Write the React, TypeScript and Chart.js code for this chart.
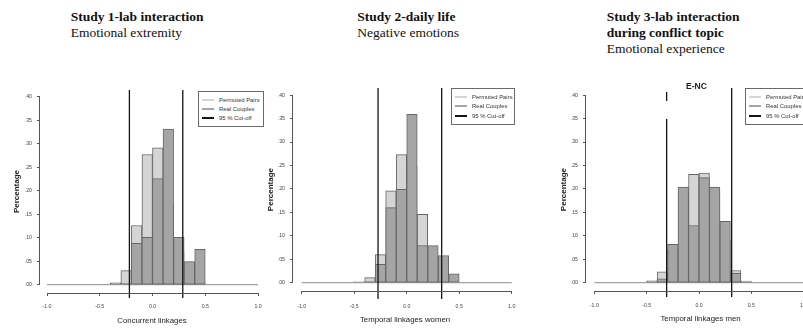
import React, { useEffect, useRef } from 'react';
import { Chart, registerables } from 'chart.js';

Chart.register(...registerables);

// ---------------- DATA ----------------
const BIN_CENTERS = [-0.45, -0.35, -0.25, -0.15, -0.05, 0.05, 0.15, 0.25, 0.35, 0.45];
const X_TICKS = [-1.0, -0.5, 0.0, 0.5, 1.0];
const X_TICK_LABELS = ['-1.0', '-0.5', '0.0', '0.5', '1.0'];
const Y_TICKS = [0, 0.05, 0.1, 0.15, 0.2, 0.25, 0.3, 0.35, 0.4];
const Y_TICK_LABELS = ['.00', '.05', '.10', '.15', '.20', '.25', '.30', '.35', '.40'];
const SERIES_NAMES = ['Permuted Pairs', 'Real Couples', '95 % Cut-off'];
const Y_TITLE = 'Percentage';
const X_TITLES = ['Concurrent linkages', 'Temporal linkages women', 'Temporal linkages men'];
const STUDY_TITLES = [
  ['Study 1-lab interaction'],
  ['Study 2-daily life'],
  ['Study 3-lab interaction', 'during conflict topic'],
];
const STUDY_SUBTITLES = ['Emotional extremity', 'Negative emotions', 'Emotional experience'];
const PANEL3_MAIN = 'E-NC';

// Study 1
const S1_PERMUTED = [null, null, 0.030, 0.126, 0.277, 0.291, 0.170, 0.070, 0.020, 0.005];
const S1_REAL = [null, 0.004, null, 0.088, 0.101, 0.226, 0.331, 0.101, 0.049, 0.075];
const S1_CUTOFFS = [-0.219, 0.287];
// Study 2
const S2_PERMUTED = [null, 0.011, 0.060, 0.196, 0.273, 0.250, 0.146, 0.040, 0.010, null];
const S2_REAL = [0.002, null, 0.039, 0.160, 0.199, 0.359, 0.079, 0.079, 0.058, 0.019];
const S2_CUTOFFS = [-0.273, 0.333];
// Study 3
const S3_PERMUTED = [null, 0.023, 0.070, 0.190, 0.231, 0.234, 0.190, 0.090, 0.026, null];
const S3_REAL = [0.004, 0.0085, 0.082, 0.204, 0.122, 0.224, 0.204, 0.131, 0.020, 0.0035];
const S3_CUTOFFS = [-0.309, 0.312];

// ---------------- STYLE / LAYOUT ----------------
const SANS = "'Liberation Sans', Arial, Helvetica, sans-serif";
const SERIF = "'Liberation Serif', 'Times New Roman', serif";
const LIGHT = '#d5d5d5';
const DARK = '#a5a5a5';
const EDGE = '#666666';
const CUT = '#151515';

Chart.defaults.font.family = SANS;

type Spec = {
  L: number; T: number; R: number; B: number;
  caL: number; caT: number; caR: number; caB: number;
  xN: number; xP: number; y0: number; y40: number;
  yTitleX: number; xTitleY: number; xTickY: number;
  xTitle: string;
  permuted: (number | null)[]; real: (number | null)[]; cutoffs: number[];
  cutTops: number[]; cutBottom: number; gap: null | { index: number; from: number; to: number };
  legend: { left: number; top: number; width: number; height: number };
};

const PANELS: Spec[] = [
  {
    L: 0, T: 80, R: 275, B: 331, caL: 40, caT: 90, caR: 264, caB: 293,
    xN: 47, xP: 258, y0: 284.7, y40: 96.7, yTitleX: 17, xTitleY: 321, xTickY: 307,
    xTitle: X_TITLES[0], permuted: S1_PERMUTED, real: S1_REAL, cutoffs: S1_CUTOFFS,
    cutTops: [90, 90], cutBottom: 298, gap: null,
    legend: { left: 198, top: 90.5, width: 66, height: 36.5 },
  },
  {
    L: 262, T: 80, R: 530, B: 331, caL: 293, caT: 88, caR: 517, caB: 291,
    xN: 301.7, xP: 511.7, y0: 282.7, y40: 95, yTitleX: 271, xTitleY: 319.5, xTickY: 306.5,
    xTitle: X_TITLES[1], permuted: S2_PERMUTED, real: S2_REAL, cutoffs: S2_CUTOFFS,
    cutTops: [88, 88], cutBottom: 299, gap: null,
    legend: { left: 451, top: 88, width: 64, height: 36.5 },
  },
  {
    L: 540, T: 80, R: 830, B: 331, caL: 586, caT: 88, caR: 815, caB: 291,
    xN: 594.3, xP: 803.7, y0: 282.7, y40: 95, yTitleX: 563.3, xTitleY: 319, xTickY: 305.5,
    xTitle: X_TITLES[2], permuted: S3_PERMUTED, real: S3_REAL, cutoffs: S3_CUTOFFS,
    cutTops: [92, 88], cutBottom: 297, gap: { index: 0, from: 101, to: 119 },
    legend: { left: 745, top: 88, width: 70, height: 36.5 },
  },
];

const rAxesPlugin = {
  id: 'rAxes',
  afterDraw(chart: any) {
    const { ctx, chartArea, scales } = chart;
    const x = scales.x;
    const y = scales.y;
    ctx.save();
    ctx.strokeStyle = '#555';
    ctx.lineWidth = 1;
    ctx.beginPath();
    const yb = Math.round(chartArea.bottom) + 0.5;
    ctx.moveTo(x.getPixelForValue(X_TICKS[0]), yb);
    ctx.lineTo(x.getPixelForValue(X_TICKS[X_TICKS.length - 1]), yb);
    const xl = Math.round(chartArea.left) - 0.5;
    ctx.moveTo(xl, y.getPixelForValue(Y_TICKS[0]));
    ctx.lineTo(xl, y.getPixelForValue(Y_TICKS[Y_TICKS.length - 1]));
    ctx.stroke();
    ctx.restore();
  },
};

function Panel({ spec }: { spec: Spec }) {
  const ref = useRef<HTMLCanvasElement>(null);
  useEffect(() => {
    const s = spec;
    const xppu = (s.xP - s.xN) / 2;
    const yppu = (s.y0 - s.y40) / 0.4;
    const xVal = (px: number) => -1 + (px - s.xN) / xppu;
    const yVal = (py: number) => (s.y0 - py) / yppu;
    const tickLen = 3;
    const tickFont = 5.2;
    const yTitleFont = 8;
    const xTitleFont = 7.8;

    const cutData = (i: number) => {
      const c = s.cutoffs[i];
      if (s.gap && s.gap.index === i) {
        return [
          { x: c, y: yVal(s.cutTops[i]) },
          { x: c, y: yVal(s.gap.from) },
          { x: c, y: null },
          { x: c, y: yVal(s.gap.to) },
          { x: c, y: yVal(s.cutBottom) },
        ];
      }
      return [
        { x: c, y: yVal(s.cutTops[i]) },
        { x: c, y: yVal(s.cutBottom) },
      ];
    };

    const barCommon = {
      type: 'bar',
      borderColor: EDGE,
      borderWidth: 1,
      borderSkipped: false,
      grouped: false,
      barPercentage: 1,
      categoryPercentage: 1,
    };

    const chart = new Chart(ref.current as HTMLCanvasElement, {
      type: 'bar',
      data: {
        datasets: [
          {
            type: 'line',
            label: 'zero',
            data: [{ x: X_TICKS[0], y: 0 }, { x: X_TICKS[X_TICKS.length - 1], y: 0 }],
            borderColor: '#8c8c8c',
            borderWidth: 1,
            pointRadius: 0,
            order: 3,
          },
          {
            ...barCommon,
            label: SERIES_NAMES[0],
            data: BIN_CENTERS.map((x, i) => ({ x, y: s.permuted[i] })),
            backgroundColor: LIGHT,
            order: 2,
          },
          {
            ...barCommon,
            label: SERIES_NAMES[1],
            data: BIN_CENTERS.map((x, i) => ({ x, y: s.real[i] })),
            backgroundColor: DARK,
            order: 1,
          },
          ...s.cutoffs.map((_, i) => ({
            type: 'line',
            label: SERIES_NAMES[2],
            data: cutData(i),
            borderColor: CUT,
            borderWidth: 1.3,
            pointRadius: 0,
            spanGaps: false,
            clip: false,
            order: 0,
          })),
        ] as any,
      },
      options: {
        animation: false,
        responsive: false,
        events: [],
        layout: { padding: { left: 0, top: s.caT - s.T, right: s.R - s.caR, bottom: 0 } },
        plugins: { legend: { display: false }, tooltip: { enabled: false } },
        scales: {
          x: {
            type: 'linear',
            offset: false,
            bounds: 'data',
            min: xVal(s.caL),
            max: xVal(s.caR),
            afterBuildTicks: (sc: any) => { sc.ticks = X_TICKS.map((v) => ({ value: v })); },
            afterFit: (sc: any) => { sc.height = s.B - s.caB; },
            ticks: {
              autoSkip: false,
              maxRotation: 0,
              font: { size: tickFont },
              color: '#444',
              padding: s.xTickY - s.caB - tickLen - (tickFont * 1.2) / 2,
              callback: (_v: any, i: number) => X_TICK_LABELS[i],
            },
            grid: { offset: false, drawOnChartArea: false, drawTicks: true, tickLength: tickLen, color: '#555' },
            border: { display: false },
            title: {
              display: true,
              text: s.xTitle,
              color: '#222',
              font: { size: xTitleFont },
              padding: { top: 0, bottom: s.B - s.xTitleY - (xTitleFont * 1.2) / 2 },
            },
          },
          y: {
            type: 'linear',
            bounds: 'data',
            min: yVal(s.caB),
            max: yVal(s.caT),
            afterBuildTicks: (sc: any) => { sc.ticks = Y_TICKS.map((v) => ({ value: v })); },
            afterFit: (sc: any) => { sc.width = s.caL - s.L; },
            ticks: {
              autoSkip: false,
              font: { size: tickFont },
              color: '#444',
              padding: 5,
              callback: (_v: any, i: number) => Y_TICK_LABELS[i],
            },
            grid: { drawOnChartArea: false, drawTicks: true, tickLength: tickLen, color: '#555' },
            border: { display: false },
            title: {
              display: true,
              text: Y_TITLE,
              color: '#222',
              font: { size: yTitleFont, weight: 'bold' },
              padding: { top: s.yTitleX - s.L - (yTitleFont * 1.2) / 2, bottom: 0 },
            },
          },
        },
      } as any,
      plugins: [rAxesPlugin],
    });
    return () => chart.destroy();
  }, [spec]);

  const w = spec.R - spec.L;
  const h = spec.B - spec.T;
  return (
    <canvas
      ref={ref}
      width={w}
      height={h}
      style={{ position: 'absolute', left: spec.L, top: spec.T, width: w, height: h }}
    />
  );
}

function Legend({ box }: { box: Spec['legend'] }) {
  const colors = [LIGHT, DARK, CUT];
  return (
    <div
      style={{
        position: 'absolute', left: box.left, top: box.top, width: box.width, height: box.height,
        border: '1px solid #6a6a6a', boxSizing: 'border-box', background: '#fff',
        fontFamily: SANS, fontSize: 5.9, color: '#333', overflow: 'hidden', whiteSpace: 'nowrap',
      }}
    >
      {SERIES_NAMES.map((name, i) => (
        <div
          key={name}
          style={{
            position: 'absolute', left: 0, top: 9.3 + i * 9.15 - 1 - 5, height: 10,
            display: 'flex', alignItems: 'center',
          }}
        >
          <div style={{ marginLeft: 2.7, width: 12.3, height: 2, background: colors[i] }} />
          <div style={{ marginLeft: 5, lineHeight: '10px' }}>{name}</div>
        </div>
      ))}
    </div>
  );
}

const TITLE_LEFTS = [70.7, 357.3, 606.7];

export default function App() {
  return (
    <div
      style={{
        position: 'fixed', left: 0, top: 0, width: 803, height: 331,
        overflow: 'hidden', background: '#fff',
      }}
    >
      {STUDY_TITLES.map((lines, i) => (
        <div
          key={i}
          style={{
            position: 'absolute', left: TITLE_LEFTS[i], top: 8.5,
            fontFamily: SERIF, fontSize: 13.5, lineHeight: '16.3px', color: '#111', whiteSpace: 'nowrap',
          }}
        >
          {lines.map((t) => (
            <div key={t} style={{ fontWeight: 'bold' }}>{t}</div>
          ))}
          <div>{STUDY_SUBTITLES[i]}</div>
        </div>
      ))}
      {PANELS.map((p, i) => (
        <Panel key={i} spec={p} />
      ))}
      {PANELS.map((p, i) => (
        <Legend key={'l' + i} box={p.legend} />
      ))}
      <div
        style={{
          position: 'absolute', left: 696.5, top: 86, transform: 'translate(-50%, -50%)',
          fontFamily: SANS, fontWeight: 'bold', fontSize: 8.5, color: '#222', whiteSpace: 'nowrap',
        }}
      >
        {PANEL3_MAIN}
      </div>
    </div>
  );
}
